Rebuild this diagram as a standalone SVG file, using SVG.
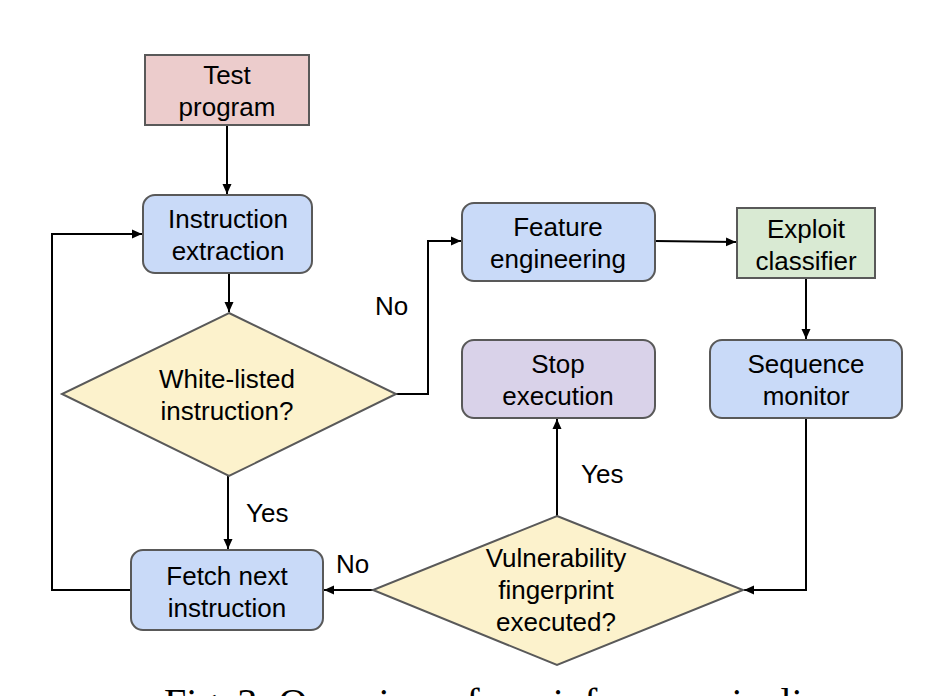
<svg xmlns="http://www.w3.org/2000/svg" width="952" height="696" viewBox="0 0 952 696">
<style>
.box{stroke:#595959;stroke-width:2}
.blue{fill:#c9daf8}
.pink{fill:#eccccc}
.green{fill:#d9ead3}
.purple{fill:#d9d2e9}
.yellow{fill:#fcf2cc}
text{font-family:"Liberation Sans",Arial,sans-serif;font-size:26px;fill:#000;text-anchor:middle}
.lbl{text-anchor:start}
.edge{fill:none;stroke:#000;stroke-width:2}
.cap{font-family:"Liberation Serif","Times New Roman",serif;font-size:40px;text-anchor:start}
</style>
<defs>
<marker id="arr" viewBox="0 0 10 10" refX="10" refY="5" markerWidth="10" markerHeight="10" markerUnits="userSpaceOnUse" orient="auto">
<path d="M0,0.5 L10,5 L0,9.5 z" fill="#000"/>
</marker>
</defs>
<rect width="952" height="696" fill="#fff"/>
<g id="connectors">
<path class="edge" d="M227,125 V194" marker-end="url(#arr)"/>
<path class="edge" d="M229,273 V312" marker-end="url(#arr)"/>
<path class="edge" d="M228,476 V549" marker-end="url(#arr)"/>
<path class="edge" d="M131,590 H52 V234 H142" marker-end="url(#arr)"/>
<path class="edge" d="M396,394 H428 V241 H461" marker-end="url(#arr)"/>
<path class="edge" d="M655,241 L736,242" marker-end="url(#arr)"/>
<path class="edge" d="M806,278 V339" marker-end="url(#arr)"/>
<path class="edge" d="M806,418 V590 H744" marker-end="url(#arr)"/>
<path class="edge" d="M557,516 V419" marker-end="url(#arr)"/>
<path class="edge" d="M373,590 H324" marker-end="url(#arr)"/>
<text class="lbl" x="375" y="315">No</text>
<text class="lbl" x="246" y="522">Yes</text>
<text class="lbl" x="581" y="483">Yes</text>
<text class="lbl" x="336" y="573">No</text>
</g>
<g id="test-program">
<rect class="box pink" x="145" y="55" width="164" height="70"/>
<text x="227" y="84">Test</text>
<text x="227" y="116">program</text>
</g>
<g id="instruction-extraction">
<rect class="box blue" x="143" y="195" width="169" height="78" rx="12"/>
<text x="228" y="228">Instruction</text>
<text x="228" y="260">extraction</text>
</g>
<g id="white-listed">
<polygon class="box yellow" points="229,313 396,394 229,476 62,394"/>
<text x="227" y="388">White-listed</text>
<text x="227" y="420">instruction?</text>
</g>
<g id="fetch-next">
<rect class="box blue" x="131" y="550" width="192" height="80" rx="12"/>
<text x="227" y="585">Fetch next</text>
<text x="227" y="617">instruction</text>
</g>
<g id="feature-engineering">
<rect class="box blue" x="462" y="203" width="193" height="78" rx="12"/>
<text x="558" y="236">Feature</text>
<text x="558" y="268">engineering</text>
</g>
<g id="exploit-classifier">
<rect class="box green" x="737" y="208" width="138" height="70"/>
<text x="806" y="238">Exploit</text>
<text x="806" y="270">classifier</text>
</g>
<g id="sequence-monitor">
<rect class="box blue" x="710" y="340" width="192" height="78" rx="12"/>
<text x="806" y="373">Sequence</text>
<text x="806" y="405">monitor</text>
</g>
<g id="stop-execution">
<rect class="box purple" x="462" y="340" width="193" height="78" rx="12"/>
<text x="558" y="373">Stop</text>
<text x="558" y="405">execution</text>
</g>
<g id="vulnerability">
<polygon class="box yellow" points="557,516 743,590 557,665 373,590"/>
<text x="556" y="567">Vulnerability</text>
<text x="556" y="599">fingerprint</text>
<text x="556" y="631">executed?</text>
</g>
<text class="cap" x="164" y="716">Fig. 3: Overview of our inference pipeline.</text>
</svg>
